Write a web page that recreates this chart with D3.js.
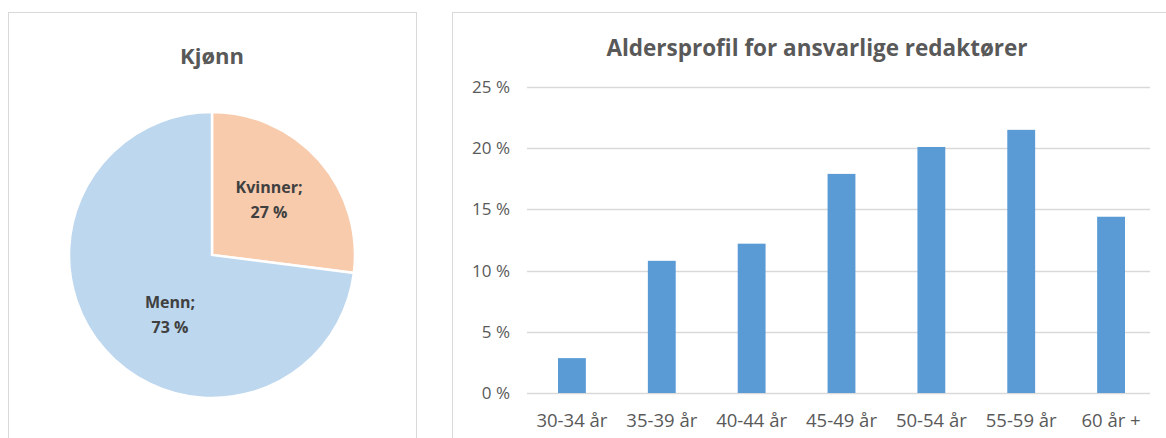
<!DOCTYPE html>
<html>
<head>
<meta charset="utf-8">
<script src="https://cdn.jsdelivr.net/npm/d3@7"></script>
<style>
  body { margin: 0; background: #fff; }
  text { font-family: "Open Sans", "Noto Sans", sans-serif; }
</style>
</head>
<body>
<div id="chart"></div>
<script>
// pie data
const genderLabels = ["Kvinner", "Menn"];
const genderShares = [27, 73];
const genderColors = ["#f8cbad", "#bdd7ee"];

// bar data
const ageGroups = ["30-34 år", "35-39 år", "40-44 år", "45-49 år", "50-54 år", "55-59 år", "60 år +"];
const ageShares = [2.85, 10.8, 12.2, 17.9, 20.1, 21.5, 14.4];
const yTicks = [0, 5, 10, 15, 20, 25];

const W = 1166, H = 438;
const svg = d3.select("#chart").append("svg")
  .attr("width", W)
  .attr("height", H);

// panel frames
svg.append("rect").attr("x", 8.5).attr("y", 12.5).attr("width", 408).attr("height", 440)
  .attr("fill", "none").attr("stroke", "#d9d9d9");
svg.append("rect").attr("x", 452.5).attr("y", 12.5).attr("width", 730).attr("height", 440)
  .attr("fill", "none").attr("stroke", "#d9d9d9");

////////////////////////////////////////////////////
// pie                                            //
////////////////////////////////////////////////////
svg.append("text")
  .attr("x", 212).attr("y", 64)
  .attr("text-anchor", "middle")
  .style("font-size", "22px").style("font-weight", "bold").style("fill", "#595959")
  .text("Kjønn");

const pieData = genderLabels.map(function (d, i) { return { label: d, value: genderShares[i], color: genderColors[i] }; });
const pie = d3.pie().sort(null).value(function (d) { return d.value; });
const arc = d3.arc().innerRadius(0).outerRadius(143);

const pieG = svg.append("g").attr("transform", "translate(212,255)");
pieG.selectAll("path")
  .data(pie(pieData))
  .enter()
  .append("path")
  .attr("d", arc)
  .attr("fill", function (d) { return d.data.color; })
  .attr("stroke", "#fff")
  .attr("stroke-width", 2.5);

// label positions (relative to centre), picked to sit like the original
const labelPos = [[57, -62], [-42, 53]];
const labels = pieG.selectAll("text.pie-label")
  .data(pie(pieData))
  .enter()
  .append("text")
  .attr("class", "pie-label")
  .attr("text-anchor", "middle")
  .attr("transform", function (d, i) { return "translate(" + labelPos[i][0] + "," + labelPos[i][1] + ")"; })
  .style("font-size", "16px").style("font-weight", "bold").style("fill", "#404040");
labels.append("tspan").attr("x", 0).attr("dy", 0).text(function (d) { return d.data.label + ";"; });
labels.append("tspan").attr("x", 0).attr("dy", 25).text(function (d) { return d.data.value + " %"; });

////////////////////////////////////////////////////
// bars                                           //
////////////////////////////////////////////////////
svg.append("text")
  .attr("x", 817).attr("y", 56)
  .attr("text-anchor", "middle")
  .style("font-size", "22.5px").style("font-weight", "bold").style("fill", "#595959")
  .text("Aldersprofil for ansvarlige redaktører");

const x = d3.scaleBand().domain(ageGroups).range([527, 1156]).paddingInner(0.69).paddingOuter(0.345);
const y = d3.scaleLinear().domain([0, 25]).range([393, 87]);

const grid = svg.append("g");
grid.selectAll("line")
  .data(yTicks)
  .enter()
  .append("line")
  .attr("x1", 527).attr("x2", 1150)
  .attr("y1", function (d) { return Math.round(y(d)) + 0.5; })
  .attr("y2", function (d) { return Math.round(y(d)) + 0.5; })
  .attr("stroke", "#d9d9d9")
  .attr("stroke-width", 1.5);

svg.selectAll("text.ytick")
  .data(yTicks)
  .enter()
  .append("text")
  .attr("class", "ytick")
  .attr("x", 510)
  .attr("y", function (d) { return y(d) + 6; })
  .attr("text-anchor", "end")
  .style("font-size", "17px").style("fill", "#595959")
  .text(function (d) { return d + " %"; });

svg.selectAll("rect.bar")
  .data(ageShares)
  .enter()
  .append("rect")
  .attr("class", "bar")
  .attr("x", function (d, i) { return x(ageGroups[i]); })
  .attr("width", x.bandwidth())
  .attr("y", function (d) { return y(d); })
  .attr("height", function (d) { return y(0) - y(d); })
  .attr("fill", "#5b9bd5");

svg.selectAll("text.xtick")
  .data(ageGroups)
  .enter()
  .append("text")
  .attr("class", "xtick")
  .attr("x", function (d) { return x(d) + x.bandwidth() / 2; })
  .attr("y", 427)
  .attr("text-anchor", "middle")
  .style("font-size", "18.5px").style("fill", "#595959")
  .text(function (d) { return d; });
</script>
</body>
</html>
